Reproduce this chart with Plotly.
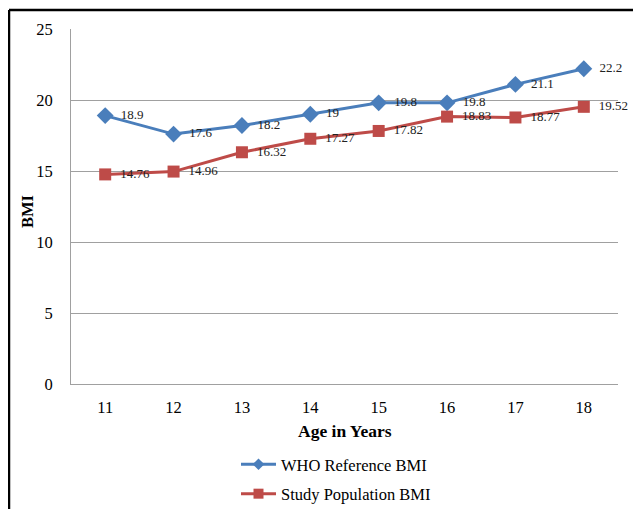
import plotly.graph_objects as go

ages = [11, 12, 13, 14, 15, 16, 17, 18]
who_bmi = [18.9, 17.6, 18.2, 19, 19.8, 19.8, 21.1, 22.2]
study_bmi = [14.76, 14.96, 16.32, 17.27, 17.82, 18.83, 18.77, 19.52]
who_labels = ["18.9", "17.6", "18.2", "19", "19.8", "19.8", "21.1", "22.2"]
study_labels = ["14.76", "14.96", "16.32", "17.27", "17.82", "18.83", "18.77", "19.52"]
y_ticks = [0, 5, 10, 15, 20, 25]
series_names = ["WHO Reference BMI", "Study Population BMI"]

FONT = "Liberation Serif"
BLUE = "#4a7ebb"
RED = "#be4b48"

fig = go.Figure()
fig.add_trace(go.Scatter(
    x=[str(a) for a in ages], y=who_bmi, name=series_names[0],
    showlegend=False, cliponaxis=False,
    mode="lines+markers+text", text=["  " + t for t in who_labels],
    textposition="middle right",
    textfont=dict(family=FONT, size=13, color="#222"),
    line=dict(color=BLUE, width=3),
    marker=dict(symbol="diamond", size=13, color=BLUE),
))
fig.add_trace(go.Scatter(
    x=[str(a) for a in ages], y=study_bmi, name=series_names[1],
    showlegend=False, cliponaxis=False,
    mode="lines+markers+text", text=["  " + t for t in study_labels],
    textposition="middle right",
    textfont=dict(family=FONT, size=13, color="#222"),
    line=dict(color=RED, width=3),
    marker=dict(symbol="square", size=12, color=RED),
))
# legend entries (smaller legend symbols, as in the reference)
fig.add_trace(go.Scatter(
    x=[None], y=[None], name=series_names[0], legendgroup="a",
    mode="lines+markers", line=dict(color=BLUE, width=3),
    marker=dict(symbol="diamond", size=9, color=BLUE),
))
fig.add_trace(go.Scatter(
    x=[None], y=[None], name=series_names[1], legendgroup="b",
    mode="lines+markers", line=dict(color=RED, width=3),
    marker=dict(symbol="square", size=10, color=RED),
))

# page has an 8px body margin; figure coordinates = page coordinates - 8
OFF = 8
W, H = 641 - OFF, 509 - OFF
L, T = 71 - OFF, 29 - OFF
R = W - (618 - OFF)
B = H - (384 - OFF)
pw, ph = W - L - R, H - T - B

def px_x(p):
    return (p - OFF - L) / pw

def px_y(p):
    return (H - B - (p - OFF)) / ph

fig.update_layout(
    width=W, height=H,
    margin=dict(l=L, r=R, t=T, b=B, autoexpand=False),
    paper_bgcolor="white", plot_bgcolor="white",
    font=dict(family=FONT, size=16, color="#000"),
    showlegend=True,
    legend=dict(
        orientation="v", xref="container", yref="container",
        x=(336 - OFF) / W, xanchor="center", y=1 - (447 - OFF) / H, yanchor="top",
        font=dict(family=FONT, size=16.5, color="#000"),
        tracegroupgap=5, itemwidth=35,
    ),
    xaxis=dict(
        type="category", showgrid=False, showline=True, linecolor="#a0a0a0",
        linewidth=1, ticks="", tickfont=dict(family=FONT, size=16.5),
        automargin=False, ticklabelstandoff=8,
        range=[-0.5, 7.5],
    ),
    yaxis=dict(
        range=[0, 25], tickvals=y_ticks, showgrid=True, gridcolor="#a0a0a0",
        gridwidth=1, showline=True, linecolor="#a0a0a0", linewidth=1,
        zeroline=False, ticks="", tickfont=dict(family=FONT, size=16.5),
        ticklabelstandoff=14, automargin=False,
    ),
    annotations=[
        dict(text="<b>Age in Years</b>", xref="paper", yref="paper",
             x=px_x(344.5), y=px_y(431), xanchor="center", yanchor="middle",
             showarrow=False, font=dict(family=FONT, size=17.5)),
        dict(text="<b>BMI</b>", xref="paper", yref="paper",
             x=px_x(27), y=px_y(212), xanchor="center", yanchor="middle",
             textangle=-90, showarrow=False, font=dict(family=FONT, size=16.5)),
    ],
    shapes=[
        dict(type="line", xref="paper", yref="paper",
             x0=px_x(9), x1=px_x(9), y0=px_y(10), y1=px_y(520),
             line=dict(color="black", width=2.5)),
        dict(type="line", xref="paper", yref="paper",
             x0=px_x(9), x1=px_x(650), y0=px_y(10), y1=px_y(10),
             line=dict(color="black", width=2.5)),
    ],
)

fig.write_html("out.html")
